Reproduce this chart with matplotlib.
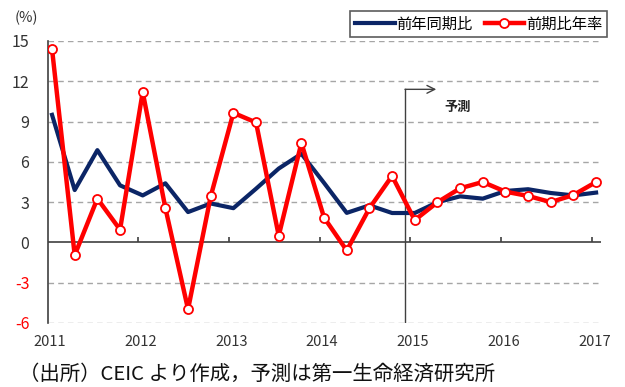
import matplotlib
matplotlib.use("Agg")
import matplotlib.pyplot as plt

plt.rcParams['font.family'] = ['Noto Sans CJK JP', 'DejaVu Sans']

# quarterly data, 2011Q1 .. 2017Q1
yoy = [9.5, 3.9, 6.87, 4.25, 3.5, 4.4, 2.26, 2.9, 2.55, 4.0, 5.5, 6.6, 4.43,
       2.2, 2.76, 2.19, 2.19, 2.99, 3.43, 3.26, 3.83, 3.96, 3.68, 3.5, 3.71]
qoq_ann = [14.4, -0.95, 3.26, 0.95, 11.2, 2.56, -4.98, 3.43, 9.65, 8.93, 0.5,
           7.41, 1.85, -0.6, 2.54, 4.95, 1.66, 2.99, 4.03, 4.5, 3.78, 3.46,
           3.0, 3.53, 4.5]
years = ['2011', '2012', '2013', '2014', '2015', '2016', '2017']
yticks = [-6, -3, 0, 3, 6, 9, 12, 15]

navy = '#0b2566'
red = '#ff0000'
gray = '#404040'

fig = plt.figure(figsize=(6.25, 3.87), dpi=100)
ax = fig.add_axes([0.076, 0.1654, 0.885, 0.7287])

x = list(range(len(yoy)))
ax.plot(x, yoy, color=navy, lw=3, label='前年同期比', zorder=3)
ax.plot(x, qoq_ann, color=red, lw=3.2, marker='o', ms=6.5, mfc='white',
        mec=red, mew=1.3, label='前期比年率', zorder=4)

ax.set_xlim(-0.2, 24.2)
ax.set_ylim(-6, 15)

# grid
for v in yticks:
    if v == 0:
        ax.axhline(0, color=gray, lw=1.2, zorder=2)
    else:
        ax.axhline(v, color='#a6a6a6', lw=1, ls=(0, (4, 3)), zorder=1)

tick_pos = [4 * k - 0.2 for k in range(len(years))]
ax.vlines(tick_pos[1:], 0, 0.38, color=gray, lw=1.2, zorder=2)
ax.set_xticks([p + 0.12 for p in tick_pos])
ax.set_xticklabels(years)
ax.tick_params(axis='x', length=0, pad=9, labelsize=10.5, labelcolor='#333333')

ax.set_yticks(yticks)
ax.set_yticklabels([str(v) for v in yticks])
ax.tick_params(axis='y', length=0, pad=13, labelsize=11.5, labelcolor='#333333')
for lab, v in zip(ax.get_yticklabels(), yticks):
    if v < 0:
        lab.set_color(red)

for s in ['top', 'right', 'bottom']:
    ax.spines[s].set_visible(False)
ax.spines['left'].set_color(gray)
ax.spines['left'].set_linewidth(1.2)

# forecast marker
fx, fy = 15.57, 11.4
ax.plot([fx, fx], [-6, fy], color=gray, lw=1, zorder=2)
ax.annotate('', xy=(16.95, fy), xytext=(fx, fy),
            arrowprops=dict(arrowstyle='->', color=gray, lw=1,
                            shrinkA=0, shrinkB=0, mutation_scale=14))
ax.text(17.87, 10.1, '予測', ha='center', va='center', fontsize=9.5,
        fontweight='bold', color='#222222')

fig.text(0.043, 0.953, '(%)', ha='center', va='center', fontsize=10.5,
         color='#333333')

leg = fig.legend(loc='center', bbox_to_anchor=(0.7655, 0.938), ncol=2,
                 fontsize=11, frameon=True, fancybox=False, edgecolor='#333333',
                 handlelength=2.6, handletextpad=0.1, columnspacing=0.8,
                 borderpad=0.3)
leg.get_frame().set_linewidth(1.2)

fig.text(0.03, 0.032, '（出所）CEIC より作成，予測は第一生命経済研究所',
         ha='left', va='center', fontsize=14.7, color='#111111')

fig.savefig('out.png', dpi=100)
